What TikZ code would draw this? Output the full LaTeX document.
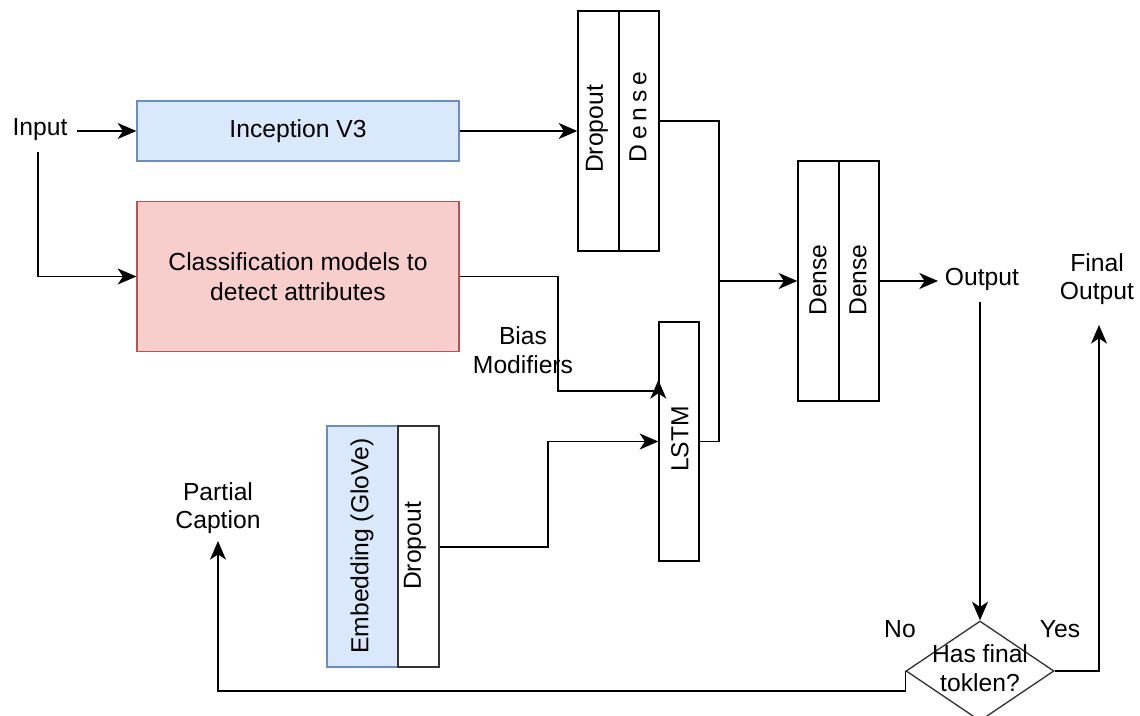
\documentclass[tikz,border=0pt]{standalone}
\usepackage{fontspec}
\setmainfont{Liberation Sans}
\usetikzlibrary{arrows.meta,shapes.geometric}
\definecolor{bfill}{HTML}{DAE8FC}
\definecolor{bline}{HTML}{6C8EBF}
\definecolor{rfill}{HTML}{F8CECC}
\definecolor{rline}{HTML}{B85450}
\tikzset{
  box/.style={draw=black, line width=1pt, inner sep=0pt, minimum width=#1},
  txt/.style={inner sep=0pt, align=center, font=\fontsize{18.5}{21.5}\selectfont},
  conn/.style={line width=1.2pt, draw=black},
  arr/.style={conn, -{Stealth[length=14pt,width=12pt,inset=4pt]}},
}
\begin{document}
\begin{tikzpicture}[x=0.75pt,y=-0.75pt, font=\fontsize{18.5}{21.5}\selectfont]
\useasboundingbox (0,0) rectangle (1140,716);
\clip (0,0) rectangle (1140,716);
\fill[white] (0,0) rectangle (1140,716);
% top boxes
\node[box=322*0.75pt, minimum height=60*0.75pt, fill=bfill, draw=bline] (inc) at (298,131) {Inception V3};
\node[box=322*0.75pt, minimum height=150*0.75pt, fill=rfill, draw=rline, align=center] (cls) at (298,276.5) {Classification models to\\[1pt]detect attributes};
% dropout / dense top
\node[box=41*0.75pt, minimum height=240*0.75pt] (do1) at (598.5,131) {};
\node[box=40*0.75pt, minimum height=240*0.75pt] (de1) at (639,131) {};
\node[rotate=90, inner sep=0pt] at (597,129) {Dropout};
\node[rotate=90, inner sep=0pt] at (638,117) {\addfontfeature{LetterSpace=20}Dense};
% dense dense
\node[box=41*0.75pt, minimum height=240*0.75pt] (de2a) at (818.5,281) {};
\node[box=40*0.75pt, minimum height=240*0.75pt] (de2b) at (859,281) {};
\node[rotate=90, inner sep=0pt] at (818,280) {Dense};
\node[rotate=90, inner sep=0pt] at (858,280) {Dense};
% LSTM
\node[box=40*0.75pt, minimum height=239*0.75pt] (lstm) at (679,441.5) {};
\node[rotate=90, inner sep=0pt] at (680,439) {LSTM};
% embedding
\node[box=71*0.75pt, minimum height=241*0.75pt, fill=bfill, draw=bline] (emb) at (362.5,546.5) {};
\node[box=41*0.75pt, minimum height=241*0.75pt, draw=black!80] (do2) at (418.5,546.5) {};
\node[rotate=90, inner sep=0pt] at (362,546) {Embedding (GloVe)};
\node[rotate=90, inner sep=0pt] at (415,546) {Dropout};
% diamond
\node[draw=black!80, line width=1pt, shape=diamond, inner sep=0pt, minimum width=148*0.75pt, minimum height=100*0.75pt] (dec) at (980,671) {};
\node[txt] (dect) at (980,668) {Has final\\toklen?};
% text nodes
\node[txt] (input) at (40,130) {Input};
\node[txt] (out) at (982,279) {Output};
\node[txt] (fout) at (1097,279) {Final\\Output};
\node[txt] (pc) at (218,508) {Partial\\Caption};
\node[txt] (bias) at (523,350) {Bias\\Modifiers};
\node[txt] (no) at (900,629) {No};
\node[txt] (yes) at (1060,629) {Yes};
% coordinates
\coordinate (inS) at (77,131);
\coordinate (inV) at (38,152);
\coordinate (outS) at (980,302);
\coordinate (pcE) at (218,541);
\coordinate (foE) at (1099,325);
% connectors
\draw[arr] (inS) -- (inc.west);
\draw[arr] (inV) |- (cls.west);
\draw[arr] (inc.east) -- (do1.west);
\draw[conn] (de1.east |- 0,121) -- (719,121) |- (lstm.east);
\draw[arr] (719,281) -- (de2a.west);
\draw[arr] (de2b.east) -- (938,281);
\draw[arr] (cls.east) -- (558,276.5) -- (558,391) -- (lstm.west |- 0,391) -- (lstm.west |- 0,380);
\draw[arr] (do2.east |- 0,547) -- (548,547) |- (lstm.west);
\draw[arr] (outS) -- (dec.north);
\draw[arr] (dec.east) -| (foE);
\draw[arr] (dec.west) -- (dec.west |- 0,691) -| (pcE);
\end{tikzpicture}
\end{document}
